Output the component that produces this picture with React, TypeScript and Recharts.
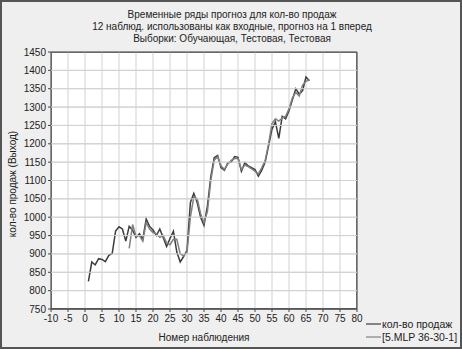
import React from 'react';
import { LineChart, Line, XAxis, YAxis, CartesianGrid } from 'recharts';

const obsX = [1,2,3,4,5,6,7,8,9,10,11,12,13,14,15,16,17,18,19,20,21,22,23,24,25,26,27,28,29,30,31,32,33,34,35,36,37,38,39,40,41,42,43,44,45,46,47,48,49,50,51,52,53,54,55,56,57,58,59,60,61,62,63,64,65,66];
const actualSales = [825,878,870,887,885,879,896,901,962,974,968,935,975,965,945,955,940,995,975,965,950,968,945,920,942,962,905,878,893,910,1040,1065,1040,1000,978,1030,1110,1162,1168,1135,1128,1148,1150,1165,1163,1125,1148,1140,1135,1130,1112,1128,1150,1195,1240,1260,1215,1275,1268,1290,1320,1350,1335,1345,1382,1372];
const predStart = 13;
const predicted = [915,980,948,950,935,985,968,958,955,945,950,930,925,940,940,900,895,905,1000,1055,1050,1010,985,1015,1100,1155,1165,1140,1130,1145,1155,1160,1160,1130,1142,1138,1132,1125,1118,1135,1155,1200,1255,1268,1262,1270,1275,1295,1325,1340,1330,1360,1370,1375];

const xTicks = [-10,-5,0,5,10,15,20,25,30,35,40,45,50,55,60,65,70,75,80];
const yTicks = [750,800,850,900,950,1000,1050,1100,1150,1200,1250,1300,1350,1400,1450];
const xMin = -10, xMax = 80, yMin = 750, yMax = 1450;

const titleLines = [
  'Временные ряды прогноз для кол-во продаж',
  '12 наблюд. использованы как входные, прогноз на 1 вперед',
  'Выборки: Обучающая, Тестовая, Тестовая',
];
const seriesNames = ['кол-во продаж', '[5.MLP 36-30-1]'];
const xLabel = 'Номер наблюдения';
const yLabel = 'кол-во продаж (Выход)';

const data = obsX.map((x, i) => ({
  x,
  actual: actualSales[i],
  pred: x >= predStart ? predicted[x - predStart] : null,
}));

// layout (chart pixel frame)
const CW = 462, CH = 349;
const MARGIN = { top: 52, right: 105, bottom: 10, left: 0 };
const Y_AXIS_W = 51, X_AXIS_H = 30;
const PLOT_L = MARGIN.left + Y_AXIS_W;
const PLOT_R = CW - MARGIN.right;
const PLOT_T = MARGIN.top;
const PLOT_B = CH - MARGIN.bottom - X_AXIS_H;

const FONT = 'Liberation Sans, Arial, sans-serif';

const YTick = (props: any) => {
  const { x, y, payload } = props;
  const edge = payload.value === yMax || payload.value === yMin;
  return (
    <g>
      <line x1={PLOT_L} x2={PLOT_R} y1={y} y2={y} stroke={edge ? '#444' : '#d2d2d2'} strokeWidth={1} />
      <text x={x} y={y} dy={3.5} textAnchor="end" fontSize={10} fill="#222" fontFamily={FONT}>{payload.value}</text>
    </g>
  );
};

const XTick = (props: any) => {
  const { x, y, payload } = props;
  const edge = payload.value === xMax;
  return (
    <g>
      {edge ? <line x1={x} x2={x} y1={PLOT_T} y2={PLOT_B} stroke="#444" strokeWidth={1} /> : null}
      <text x={x} y={y} dy={8} textAnchor="middle" fontSize={10} fill="#222" fontFamily={FONT}>{payload.value}</text>
    </g>
  );
};

export default function App() {
  return (
    <div style={{ position: 'absolute', left: 0, top: 0, width: 462, height: 349, background: '#efefef', boxSizing: 'border-box', border: '2px solid #555', overflow: 'hidden' }}>
      <div style={{ position: 'absolute', left: PLOT_L - 2, top: PLOT_T - 2, width: PLOT_R - PLOT_L, height: PLOT_B - PLOT_T, background: '#ffffff', boxSizing: 'border-box', border: '1px solid #444' }} />
      <div style={{ position: 'absolute', left: -2, top: -2 }}>
        <LineChart width={CW} height={CH} data={data} margin={MARGIN}>
          <CartesianGrid stroke="#d2d2d2" />
          <XAxis dataKey="x" type="number" domain={[xMin, xMax]} ticks={xTicks} interval={0} allowDataOverflow height={X_AXIS_H}
            tick={<XTick />} tickSize={3} stroke="#444" />
          <YAxis type="number" domain={[yMin, yMax]} ticks={yTicks} interval={0} width={Y_AXIS_W} allowDataOverflow
            tick={<YTick />} tickSize={3} stroke="#444" />
          <Line type="linear" dataKey="actual" stroke="#3c3c3c" strokeWidth={1.5} dot={false} isAnimationActive={false} />
          <Line type="linear" dataKey="pred" stroke="#808080" strokeWidth={1.5} dot={false} isAnimationActive={false} />
        </LineChart>
      </div>
      <svg width={462} height={349} style={{ position: 'absolute', left: -2, top: -2, pointerEvents: 'none' }} fontFamily={FONT}>
        {titleLines.map((t, i) => (
          <text key={i} x={232} y={18 + i * 12} textAnchor="middle" fontSize={10} fill="#222">{t}</text>
        ))}
        <text x={13} y={184} textAnchor="middle" fontSize={10} fill="#222" transform="rotate(-90 13 184)" dominantBaseline="middle">{yLabel}</text>
        <text x={204} y={341} textAnchor="middle" fontSize={10} fill="#222">{xLabel}</text>
        {seriesNames.map((n, i) => (
          <g key={i}>
            <line x1={366} x2={381} y1={324 + i * 13} y2={324 + i * 13} stroke={i === 0 ? '#3c3c3c' : '#808080'} strokeWidth={1.2} />
            <text x={382} y={328 + i * 13} fontSize={10.5} fill="#222">{n}</text>
          </g>
        ))}
      </svg>
    </div>
  );
}
